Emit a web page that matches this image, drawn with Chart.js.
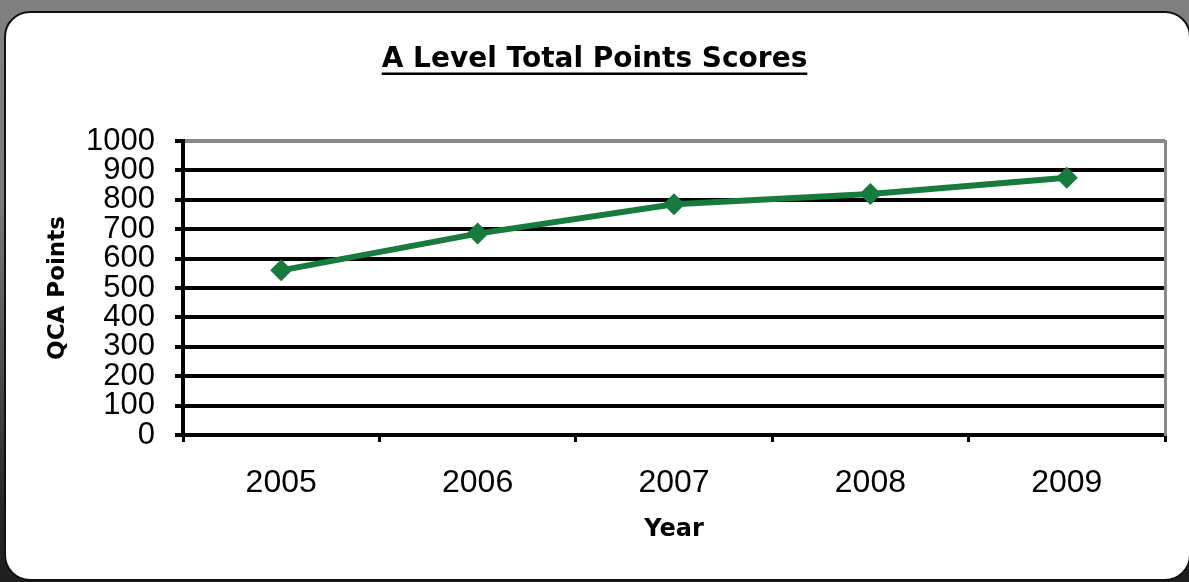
<!DOCTYPE html>
<html>
<head>
<meta charset="utf-8">
<script src="https://cdn.jsdelivr.net/npm/chart.js@4.4.1/dist/chart.umd.min.js"></script>
<style>
  html, body { margin: 0; padding: 0; }
  body {
    width: 1189px; height: 582px; overflow: hidden; position: relative;
    background: linear-gradient(to bottom, #808080 0%, #7a7a7a 35%, #2a2a2a 85%, #1e1e1e 100%);
  }
  #card {
    position: absolute; left: 4px; top: 11px; width: 1187px; height: 570px;
    box-sizing: border-box; background: #fff;
    border: 2px solid #111; border-radius: 26px;
  }
  #grafico { position: absolute; left: 0; top: 0; }
</style>
</head>
<body>
<div id="card"></div>
<canvas id="grafico" width="1189" height="582"></canvas>
<script>
// dados do gráfico
const chartTitle = 'A Level Total Points Scores';
const years = ['2005', '2006', '2007', '2008', '2009'];
const qcaPoints = [560, 685, 785, 820, 875];
const yMin = 0;
const yMax = 1000;
const yStep = 100;

const verde = '#177A3E';
const titleSize = 28;
const titlePadTop = 43;

// sublinha o título (o Chart.js não faz isso sozinho)
const underlineTitle = {
  id: 'underlineTitle',
  afterDraw(chart) {
    const t = chart.titleBlock;
    if (!t) return;
    const ctx = chart.ctx;
    ctx.save();
    ctx.font = 'bold ' + titleSize + 'px "DejaVu Sans"';
    const w = ctx.measureText(chartTitle).width;
    const cx = (t.left + t.right) / 2;
    const y = titlePadTop + titleSize * 0.6 + 14;
    ctx.strokeStyle = '#000';
    ctx.lineWidth = 2.5;
    ctx.beginPath();
    ctx.moveTo(cx - w / 2, y);
    ctx.lineTo(cx + w / 2, y);
    ctx.stroke();
    ctx.restore();
  }
};

const ctx = document.getElementById('grafico').getContext('2d');

new Chart(ctx, {
  type: 'line',
  data: {
    labels: years,
    datasets: [{
      label: 'QCA Points',
      data: qcaPoints,
      borderColor: verde,
      backgroundColor: verde,
      borderWidth: 6,
      tension: 0,
      fill: false,
      pointStyle: 'rectRot',
      pointRadius: 11,
      pointHoverRadius: 11,
      pointBackgroundColor: verde,
      pointBorderColor: verde,
      pointBorderWidth: 0
    }]
  },
  options: {
    responsive: false,
    animation: false,
    devicePixelRatio: 1,
    layout: { padding: 0 },
    plugins: {
      legend: { display: false },
      tooltip: { enabled: false },
      title: {
        display: true,
        text: chartTitle,
        color: '#000',
        font: { family: 'DejaVu Sans', size: titleSize, weight: 'bold', lineHeight: 1.2 },
        padding: { top: titlePadTop, bottom: 141 - titlePadTop - titleSize * 1.2 }
      }
    },
    scales: {
      x: {
        offset: true,
        afterFit: (s) => { s.height = 147; },
        grid: {
          offset: true,
          drawOnChartArea: false,
          drawTicks: true,
          tickLength: 7,
          tickColor: '#000',
          lineWidth: 3
        },
        border: { display: true, color: '#000', width: 4 },
        ticks: {
          color: '#000',
          padding: 22,
          font: { family: 'Liberation Sans', size: 32 },
          maxRotation: 0
        },
        title: {
          display: true,
          text: 'Year',
          color: '#000',
          font: { family: 'DejaVu Sans', size: 24, weight: 'bold', lineHeight: 1.2 },
          padding: { top: 10, bottom: 38 }
        }
      },
      y: {
        min: yMin,
        max: yMax,
        afterFit: (s) => { s.width = 183; },
        grid: {
          color: (c) => (c.tick && c.tick.value === yMax ? '#888' : '#000'),
          tickColor: '#000',
          lineWidth: 4,
          tickLength: 8
        },
        border: { display: true, color: '#000', width: 4 },
        ticks: {
          stepSize: yStep,
          autoSkip: false,
          color: '#000',
          padding: 20,
          font: { family: 'Liberation Sans', size: 31 },
          callback: (v) => String(v)
        },
        title: {
          display: true,
          text: 'QCA Points',
          color: '#000',
          font: { family: 'DejaVu Sans', size: 23, weight: 'bold', lineHeight: 1.2 },
          padding: { top: 44, bottom: 0 }
        }
      },
      y1: {
        position: 'right',
        min: yMin,
        max: yMax,
        afterFit: (s) => { s.width = 24; },
        grid: { display: false, drawTicks: false },
        border: { display: true, color: '#888', width: 3 },
        ticks: { display: false }
      }
    }
  },
  plugins: [underlineTitle]
});
</script>
</body>
</html>
